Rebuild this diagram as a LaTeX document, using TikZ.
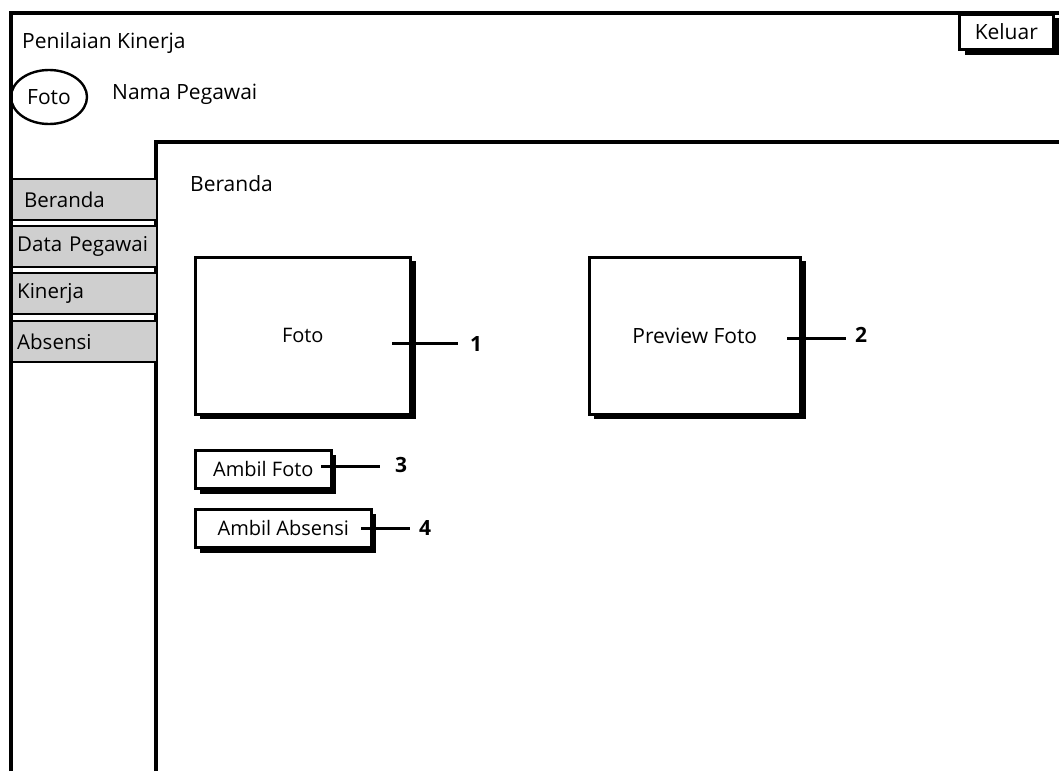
\documentclass[tikz,border=0pt]{standalone}
\usepackage{fontspec}
\setmainfont{Open Sans}
\usetikzlibrary{positioning,shapes.geometric}
\begin{document}
\begin{tikzpicture}[x=1pt,y=-1pt,
  frame/.style={line width=3.6pt,black},
  ui/.style={font=\fontsize{21}{24}\selectfont},
  tab/.style={draw,line width=2.4pt,fill=black!19,minimum height=41pt,anchor=north west,
    text width=135pt,align=left,inner xsep=5pt,inner ysep=3pt,font=\fontsize{20.5}{24}\selectfont},
  box/.style={draw,line width=2.6pt,fill=white,anchor=north west,font=\fontsize{20}{24}\selectfont},
  shade/.style={fill=black},
  callout/.style={line width=3pt},
  num/.style={font=\bfseries\fontsize{21}{24}\selectfont,inner sep=0pt}
]
\useasboundingbox (0,0) rectangle (1059,771);
\fill[white] (0,0) rectangle (1059,771);

% outer window frame
\draw[frame] (11,771) -- (11,13) -- (1059,13);
% header
\node[ui,anchor=west,inner sep=0pt] (title) at (22,43) {Penilaian Kinerja};
\node[draw,ellipse,line width=2.4pt,minimum width=76pt,minimum height=54pt,inner sep=0pt,ui] (avatar) at (49,97) {Foto};
\node[ui,anchor=west,inner sep=0pt] (nama) at (112,94) {Nama Pegawai};

% logout button with shadow
\fill[shade] (965,18) rectangle (1059,55);
\node[box,minimum width=94pt,minimum height=35pt,font=\fontsize{21}{24}\selectfont] (keluar) at (958,13) {Keluar};

% content panel
\draw[frame] (156,771) -- (156,142) -- (1059,142);
\node[ui,anchor=west,inner sep=0pt] (heading) at (190,184) {Beranda};

% side menu
\node[tab] (m1) at (11,178) {\mbox{\hspace*{7pt}Beranda}};
\node[tab] (m2) at (11,225) {\mbox{Data Pegawai}};
\node[tab] (m3) at (11,272) {\mbox{Kinerja}};
\node[tab] (m4) at (11,320) {\mbox{Absensi}};

% photo panels
\fill[shade] (200,261) rectangle (416,419);
\node[box,minimum width=215pt,minimum height=157pt] (foto) at (194,256) {Foto};
\fill[shade] (594,261) rectangle (806,419);
\node[box,minimum width=211pt,minimum height=157pt,font=\fontsize{21}{24}\selectfont] (preview) at (588,256) {Preview Foto};

% buttons
\fill[shade] (200,455) rectangle (336,494);
\node[box,minimum width=136pt,minimum height=38pt] (ambilfoto) at (194,449) {Ambil Foto};
\fill[shade] (200,514) rectangle (376,553);
\node[box,minimum width=176pt,minimum height=38pt] (ambilabsen) at (194,508) {Ambil Absensi};

% numbered callouts
\node[num] (n1) at (476,344) {1};
\node[num] (n2) at (861,335) {2};
\node[num] (n3) at (401,465) {3};
\node[num] (n4) at (425,528) {4};
\coordinate (c1) at (392,343);
\coordinate (c2) at (787,338);
\coordinate (c3) at (321,466);
\coordinate (c4) at (361,528);
\draw[callout] (c1) -- ([xshift=-12pt]n1.west |- c1);
\draw[callout] (c2) -- ([xshift=-9pt]n2.west |- c2);
\draw[callout] (c3) -- ([xshift=-15pt]n3.west |- c3);
\draw[callout] (c4) -- ([xshift=-9pt]n4.west |- c4);
\end{tikzpicture}
\end{document}
